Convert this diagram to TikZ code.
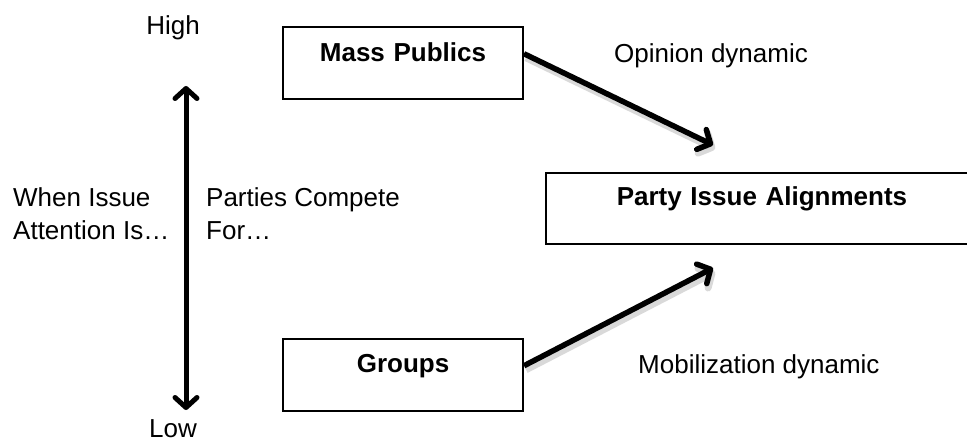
\documentclass[tikz,border=0pt]{standalone}
\usepackage{fontspec}
\setmainfont{Liberation Sans}
\usetikzlibrary{arrows.meta,calc}
\begin{document}
\begin{tikzpicture}[x=1pt,y=-1pt,
  box/.style={draw, line width=2pt, inner sep=0pt, align=center,
    font=\bfseries\fontsize{26}{31}\selectfont, anchor=north west},
  txt/.style={inner sep=0pt, font=\fontsize{26}{33}\selectfont},
  headtip/.tip={Straight Barb[length=10pt,width=22pt,round]},
  thickarrow/.style={line width=5.5pt, -{headtip}},
  twoway/.style={line width=5pt, {headtip}-{headtip}},
  shadowline/.style={line width=7pt, draw=black, opacity=0.15, -{headtip}}]
\clip (0,0) rectangle (967,441);
\fill[white] (0,0) rectangle (967,441);
% boxes
\node[box, text width=240pt, text height=35pt, text depth=37pt] (mp) at (282,26) {Mass Publics};
\node[box, text width=432pt, text height=32pt, text depth=39pt] (pa) at (545,172) {Party Issue Alignments};
\node[box, text width=240pt, text height=33pt, text depth=39pt] (gr) at (282,338) {Groups};
% side texts
\node[txt, anchor=base] (high) at (173,35) {High};
\node[txt, anchor=base] (low) at (173,437) {Low};
\node[txt, anchor=base west, align=left] (when) at (13,239) {When Issue\\Attention Is…};
\node[txt, anchor=base west, align=left] (compete) at (206,239) {Parties Compete\\For…};
\node[txt, anchor=base west] (opin) at (614,63) {Opinion dynamic};
\node[txt, anchor=base west] (mobi) at (638,373) {Mobilization dynamic};
% vertical double arrow
\coordinate (vtop) at (186,86);
\coordinate (vbot) at (186,410);
\draw[twoway] (vbot) -- (vtop);
% diagonal arrows
\coordinate (startA) at ($(mp.north east)!0.375!(mp.south east)$);
\coordinate (startB) at ($(gr.north east)!0.375!(gr.south east)$);
\coordinate (tipA) at (713,145);
\coordinate (tipB) at (713,268);
\draw[shadowline] ([shift={(2,4)}]startA) -- ([shift={(2,4)}]tipA);
\draw[shadowline] ([shift={(2,4)}]startB) -- ([shift={(2,4)}]tipB);
\draw[thickarrow] (startA) -- (tipA);
\draw[thickarrow] (startB) -- (tipB);
\end{tikzpicture}
\end{document}
